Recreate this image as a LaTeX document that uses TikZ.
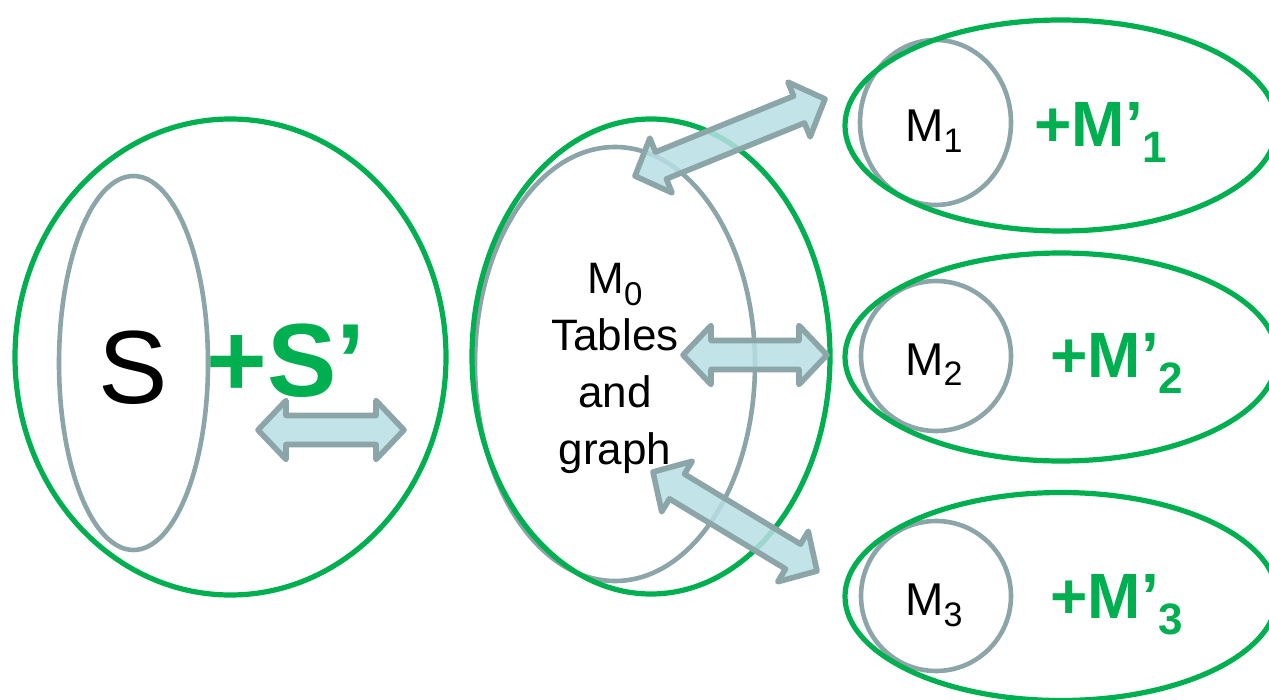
\documentclass[tikz,border=0pt]{standalone}
\usepackage{fontspec}
\setmainfont{Liberation Sans}
\usetikzlibrary{shapes.geometric,calc}
\definecolor{grn}{HTML}{00B050}
\definecolor{gry}{HTML}{8CA5A8}
\definecolor{lblue}{HTML}{B7DEE3}
\tikzset{
  greenring/.style={ellipse, draw=grn, line width=2.6pt, inner sep=0pt},
  grayring/.style={ellipse, draw=gry, line width=2.3pt, inner sep=0pt},
  dblarrow/.style={draw=gry, fill=lblue, fill opacity=0.85, line width=2.8pt, line join=round},
  lbl/.style={inner sep=0pt, anchor=base west},
  mfont/.style={font=\fontsize{23}{28}\selectfont},
  pfont/.style={font=\fontsize{32}{38}\selectfont\bfseries, text=grn},
}
\newcommand{\lowsub}[3]{\raisebox{#1}{\fontsize{#2}{#2}\selectfont #3}}
\newcommand{\DoubleArrowPath}[2]{%
  \coordinate (h1) at ($(#1)!14pt!(#2)$);
  \coordinate (h2) at ($(#2)!14pt!(#1)$);
  \draw[dblarrow] (#1) -- ($(h1)!14.75pt!90:(#2)$) -- ($(h1)!7.25pt!90:(#2)$)
    -- ($(h2)!7.25pt!-90:(#1)$) -- ($(h2)!14.75pt!-90:(#1)$) -- (#2)
    -- ($(h2)!14.75pt!90:(#1)$) -- ($(h2)!7.25pt!90:(#1)$)
    -- ($(h1)!7.25pt!-90:(#2)$) -- ($(h1)!14.75pt!-90:(#2)$) -- cycle;}
\begin{document}
\begin{tikzpicture}[x=0.5pt,y=-0.5pt]
\useasboundingbox (0,0) rectangle (1269,700);
\clip (0,0) rectangle (1269,700);
% gray inner shapes
\node[grayring, minimum width=74.5pt, minimum height=187pt] (gS) at (133.5,363) {};
\node[grayring, minimum width=140pt, minimum height=217pt] (gM0) at (615,364) {};
\node[grayring, minimum width=75.5pt, minimum height=82.5pt] (gM1) at (935.5,122.5) {};
\node[grayring, minimum width=75pt, minimum height=75pt] (gM2) at (936,356) {};
\node[grayring, minimum width=75pt, minimum height=75pt] (gM3) at (936,596) {};
% green outer shapes
\node[greenring, minimum width=215.5pt, minimum height=238pt] (eS) at (230.5,357) {};
\node[greenring, minimum width=179pt, minimum height=237.5pt] (eM0) at (651,356.5) {};
\node[greenring, minimum width=216pt, minimum height=105.5pt] (eM1) at (1061,125.5) {};
\node[greenring, minimum width=216pt, minimum height=104pt] (eM2) at (1061,357) {};
\node[greenring, minimum width=216pt, minimum height=104pt] (eM3) at (1061,596.5) {};
% texts
\node[lbl, font=\fontsize{52}{60}\selectfont] (tS) at (98,403) {S};
\node[lbl, font=\fontsize{52}{60}\selectfont\bfseries, text=grn] (tSp) at (206,396) {+S’};
\node[inner sep=0pt, anchor=north, align=center, font=\fontsize{22}{28.5}\selectfont] (tM0) at (615,263)
  {M\lowsub{-6pt}{16.5}{0}\\Tables\\and\\graph};
\node[lbl, mfont] (tM1) at (905,142) {M\lowsub{-5.5pt}{17}{1}};
\node[lbl, mfont] (tM2) at (905,375) {M\lowsub{-5.5pt}{17}{2}};
\node[lbl, mfont] (tM3) at (905,615) {M\lowsub{-5.5pt}{17}{3}};
\node[lbl, pfont] (tP1) at (1034,147) {+M’\lowsub{-8pt}{22}{1}};
\node[lbl, pfont] (tP2) at (1050,378) {+M’\lowsub{-8pt}{22}{2}};
\node[lbl, pfont] (tP3) at (1050,618) {+M’\lowsub{-8pt}{22}{3}};
% arrow end points
\coordinate (a0l) at (258,430);
\coordinate (a0r) at (404,430);
\coordinate (a1l) at (635,176);
\coordinate (a1r) at (825,99);
\coordinate (a2l) at (683,355);
\coordinate (a2r) at (827,355);
\coordinate (a3l) at (653,472);
\coordinate (a3r) at (817,571);
\DoubleArrowPath{a0l}{a0r}
\DoubleArrowPath{a1l}{a1r}
\DoubleArrowPath{a2l}{a2r}
\DoubleArrowPath{a3l}{a3r}
\end{tikzpicture}
\end{document}
